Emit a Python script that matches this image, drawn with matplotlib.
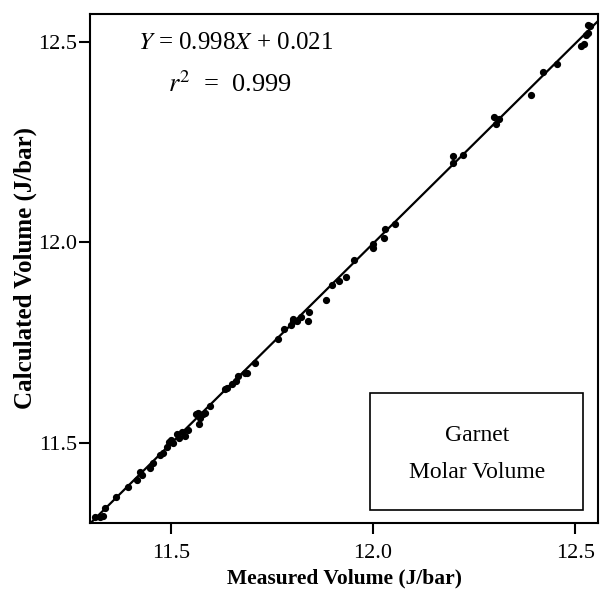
import matplotlib
matplotlib.use("Agg")
import matplotlib.pyplot as plt
import numpy as np
from matplotlib.patches import Rectangle

plt.rcParams.update({
    'font.family': ['Liberation Serif', 'DejaVu Serif'],
    'mathtext.fontset': 'stix',
    'axes.linewidth': 1.5,
})

# measured vs calculated molar volume (J/bar)
measured = [11.312, 11.325, 11.332, 11.337, 11.364, 11.394, 11.417, 11.424, 11.429, 11.449,
            11.456, 11.474, 11.481, 11.491, 11.496, 11.501, 11.506, 11.516, 11.521, 11.528,
            11.536, 11.543, 11.563, 11.568, 11.573, 11.570, 11.580, 11.585, 11.598, 11.635,
            11.640, 11.652, 11.660, 11.667, 11.684, 11.689, 11.709, 11.766, 11.779, 11.796,
            11.801, 11.803, 11.813, 11.823, 11.838, 11.841, 11.883, 11.898, 11.917, 11.932,
            11.952, 11.999, 11.999, 12.027, 12.029, 12.054, 12.198, 12.198, 12.222, 12.299,
            12.304, 12.312, 12.391, 12.421, 12.455, 12.515, 12.522, 12.527, 12.532, 12.532,
            12.537]
calculated = [11.315, 11.315, 11.317, 11.337, 11.365, 11.389, 11.407, 11.427, 11.419, 11.436,
              11.449, 11.469, 11.474, 11.489, 11.501, 11.506, 11.499, 11.523, 11.513, 11.526,
              11.518, 11.531, 11.573, 11.575, 11.561, 11.548, 11.573, 11.575, 11.593, 11.635,
              11.637, 11.647, 11.655, 11.667, 11.675, 11.675, 11.700, 11.759, 11.784, 11.794,
              11.809, 11.804, 11.804, 11.814, 11.804, 11.826, 11.856, 11.893, 11.903, 11.913,
              11.955, 11.997, 11.987, 12.010, 12.034, 12.047, 12.216, 12.198, 12.218, 12.312,
              12.295, 12.307, 12.369, 12.424, 12.444, 12.491, 12.496, 12.518, 12.523, 12.543,
              12.541]
slope, intercept = 0.998, 0.021
xlim = (11.3, 12.557)
ylim = (11.3, 12.57)
ticks = [11.5, 12.0, 12.5]

fig = plt.figure(figsize=(6, 5.92), dpi=100)
ax = fig.add_axes([0.15, 0.1166, 0.847, 0.8598])

xs = np.array(xlim)
ax.plot(xs, slope * xs + intercept, color='black', lw=1.6)
ax.plot(measured, calculated, 'o', color='black', ms=4.2)

ax.set_xlim(xlim)
ax.set_ylim(ylim)
ax.set_xticks(ticks)
ax.set_yticks(ticks)
ax.set_xticklabels(['11.5', '12.0', '12.5'])
ax.set_yticklabels(['11.5', '12.0', '12.5'])
ax.tick_params(direction='out', length=8, width=1.5, labelsize=16)
ax.tick_params(axis='x', pad=7)
ax.tick_params(axis='y', pad=1)

ax.set_xlabel('Measured Volume (J/bar)', fontsize=15.5, fontweight='bold', labelpad=4)
ax.set_ylabel('Calculated Volume (J/bar)', fontsize=18, fontweight='bold', labelpad=1)

ax.text(0.287, 0.943, r'$Y$ = 0.998$X$ + 0.021', transform=ax.transAxes,
        ha='center', va='center', fontsize=18)
ax.text(0.276, 0.862, r'$r^2$  =  0.999', transform=ax.transAxes,
        ha='center', va='center', fontsize=19)

ax.add_patch(Rectangle((0.551, 0.0255), 0.419, 0.23, transform=ax.transAxes,
                       fill=False, edgecolor='black', lw=1.2))
ax.text(0.762, 0.171, 'Garnet', transform=ax.transAxes, ha='center', va='center', fontsize=17)
ax.text(0.762, 0.100, 'Molar Volume', transform=ax.transAxes, ha='center', va='center', fontsize=17)

fig.savefig('out.png', dpi=100)
